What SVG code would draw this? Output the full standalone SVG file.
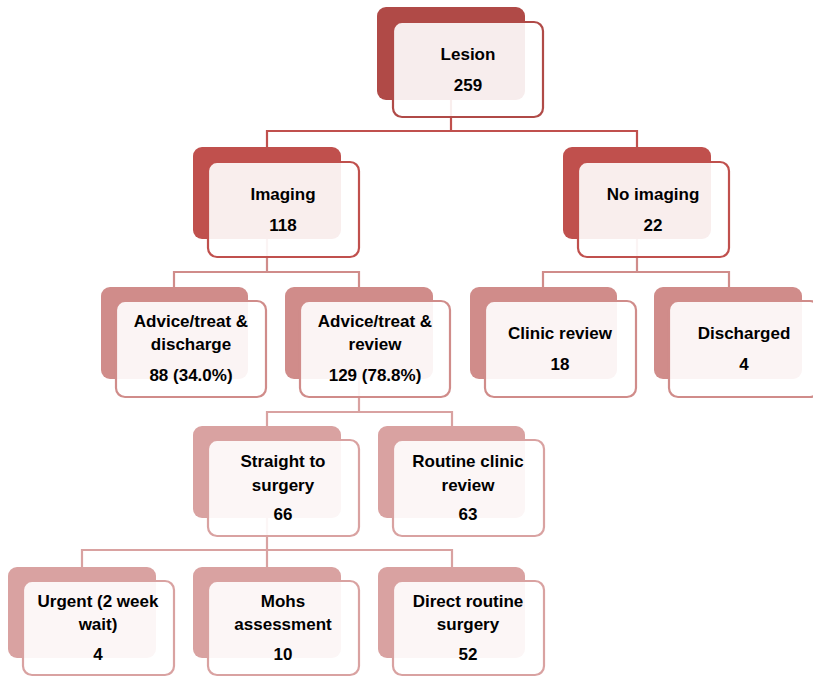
<svg xmlns="http://www.w3.org/2000/svg" width="813" height="677" viewBox="0 0 813 677">
<style>
text{font-family:"Liberation Sans",Arial,sans-serif;font-weight:bold;font-size:17px;fill:#000;text-anchor:middle}
.front{fill:#fff;fill-opacity:0.9;stroke-width:2.2}
.conn{fill:none;stroke-width:2.2}
.l1 .back{fill:#B04A47}.l1 .front{stroke:#B04A47}
.l2 .back{fill:#C0504D}.l2 .front{stroke:#C0504D}
.l3 .back{fill:#D08C8A}.l3 .front{stroke:#D08C8A}
.l4 .back{fill:#D9A2A1}.l4 .front{stroke:#D9A2A1}
</style>
<rect width="813" height="677" fill="#fff"/>
<g id="connectors">
<path class="conn" stroke="#C0504D" d="M451 100V131M267 147V131H637V147"/>
<path class="conn" stroke="#D08C8A" d="M267 239V272M174 287V272H359V287M637 239V272M543 287V272H729V287"/>
<path class="conn" stroke="#D9A2A1" d="M359 379V412M267 427V412H452V427"/>
<path class="conn" stroke="#D9A2A1" d="M267 518V550M82 567V550H452V567M267 550V567"/>
</g>
<g id="lesion" class="l1">
<rect class="back" x="377" y="7" width="148" height="93" rx="9"/>
<rect class="front" x="393" y="22" width="150" height="95" rx="9"/>
<text x="468" y="60">Lesion</text><text x="468" y="91">259</text>
</g>
<g id="imaging" class="l2">
<rect class="back" x="193" y="147" width="148" height="92" rx="9"/>
<rect class="front" x="208" y="162" width="151" height="95" rx="9"/>
<text x="283" y="200">Imaging</text><text x="283" y="231">118</text>
</g>
<g id="no-imaging" class="l2">
<rect class="back" x="563" y="147" width="148" height="92" rx="9"/>
<rect class="front" x="578" y="162" width="151" height="95" rx="9"/>
<text x="653" y="200">No imaging</text><text x="653" y="231">22</text>
</g>
<g id="advice-discharge" class="l3">
<rect class="back" x="101" y="287" width="147" height="92" rx="9"/>
<rect class="front" x="116" y="301" width="150" height="96" rx="9"/>
<text x="191" y="327">Advice/treat &amp;</text><text x="191" y="350">discharge</text><text x="191" y="381">88 (34.0%)</text>
</g>
<g id="advice-review" class="l3">
<rect class="back" x="285" y="287" width="148" height="92" rx="9"/>
<rect class="front" x="300" y="301" width="150" height="96" rx="9"/>
<text x="375" y="327">Advice/treat &amp;</text><text x="375" y="350">review</text><text x="375" y="381">129 (78.8%)</text>
</g>
<g id="clinic-review" class="l3">
<rect class="back" x="470" y="287" width="147" height="92" rx="9"/>
<rect class="front" x="485" y="301" width="151" height="96" rx="9"/>
<text x="560" y="339">Clinic review</text><text x="560" y="370">18</text>
</g>
<g id="discharged" class="l3">
<rect class="back" x="654" y="287" width="148" height="92" rx="9"/>
<rect class="front" x="669" y="301" width="150" height="96" rx="9"/>
<text x="744" y="339">Discharged</text><text x="744" y="370">4</text>
</g>
<g id="straight-surgery" class="l4">
<rect class="back" x="193" y="426" width="148" height="92" rx="9"/>
<rect class="front" x="208" y="440" width="151" height="96" rx="9"/>
<text x="283" y="467">Straight to</text><text x="283" y="491">surgery</text><text x="283" y="520">66</text>
</g>
<g id="routine-clinic" class="l4">
<rect class="back" x="378" y="426" width="147" height="92" rx="9"/>
<rect class="front" x="393" y="440" width="151" height="96" rx="9"/>
<text x="468" y="467">Routine clinic</text><text x="468" y="491">review</text><text x="468" y="520">63</text>
</g>
<g id="urgent" class="l4">
<rect class="back" x="8" y="567" width="148" height="91" rx="9"/>
<rect class="front" x="23" y="581" width="151" height="94" rx="9"/>
<text x="98" y="607">Urgent (2 week</text><text x="98" y="630">wait)</text><text x="98" y="660">4</text>
</g>
<g id="mohs" class="l4">
<rect class="back" x="193" y="567" width="148" height="91" rx="9"/>
<rect class="front" x="208" y="581" width="151" height="94" rx="9"/>
<text x="283" y="607">Mohs</text><text x="283" y="630">assessment</text><text x="283" y="660">10</text>
</g>
<g id="direct-routine" class="l4">
<rect class="back" x="378" y="567" width="147" height="91" rx="9"/>
<rect class="front" x="393" y="581" width="151" height="94" rx="9"/>
<text x="468" y="607">Direct routine</text><text x="468" y="630">surgery</text><text x="468" y="660">52</text>
</g>
</svg>
